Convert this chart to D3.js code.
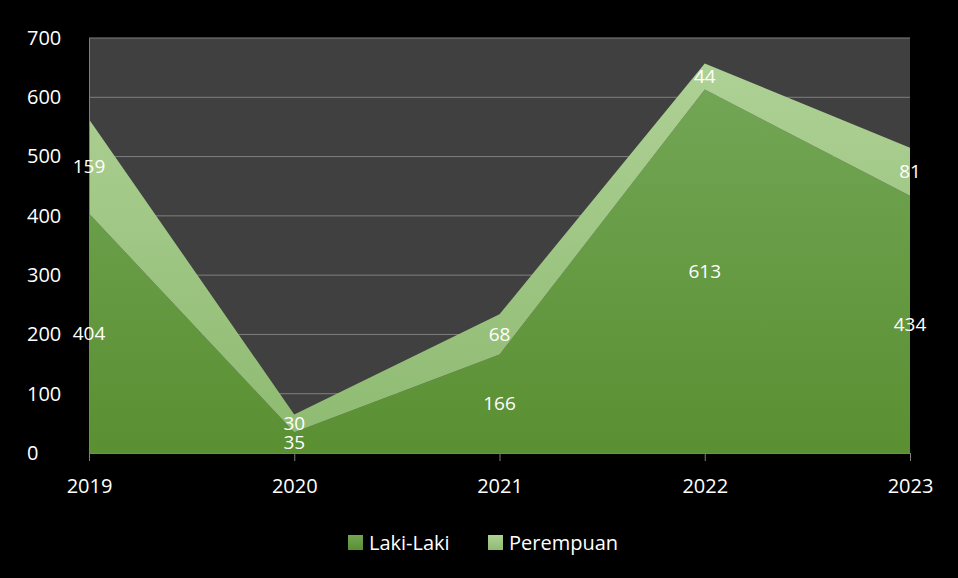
<!DOCTYPE html>
<html>
<head>
<meta charset="utf-8">
<script src="https://cdn.jsdelivr.net/npm/d3@7"></script>
<style>
  body { margin: 0; background: #000; }
  svg, svg text { font-family: "Open Sans", "Noto Sans", sans-serif; }
  svg { display: block; }
</style>
</head>
<body>
<script>
"use strict";
// ----------------------------------------
//  Data
// ----------------------------------------
const years = ["2019", "2020", "2021", "2022", "2023"];
const lakiLaki = [404, 35, 166, 613, 434];
const perempuan = [159, 30, 68, 44, 81];
const yTicks = [0, 100, 200, 300, 400, 500, 600, 700];
const seriesNames = ["Laki-Laki", "Perempuan"];

const W = 958, H = 578;
const margin = {top: 38, right: 48, bottom: 125, left: 89};
const width = W - margin.left - margin.right;
const height = H - margin.top - margin.bottom;

const svg = d3.select("body").append("svg")
    .attr("width", W).attr("height", H);

svg.append("rect").attr("width", W).attr("height", H).attr("fill", "#000");

// gradients
const defs = svg.append("defs");
function grad(id, top, bottom) {
    const g = defs.append("linearGradient").attr("id", id)
        .attr("x1", 0).attr("y1", 0).attr("x2", 0).attr("y2", 1);
    g.append("stop").attr("offset", "0%").attr("stop-color", top);
    g.append("stop").attr("offset", "100%").attr("stop-color", bottom);
}
grad("gLaki", "#72a655", "#5a8f32");
grad("gPer", "#aed195", "#8fbb72");

const g = svg.append("g")
    .attr("transform", "translate(" + margin.left + "," + margin.top + ")");

// scales
const x = d3.scalePoint().domain(years).range([0, width]);
const y = d3.scaleLinear().domain([0, 700]).range([height, 0]);

g.append("rect").attr("width", width).attr("height", height).attr("fill", "#404040");

// gridlines
g.append("g").selectAll("line").data(yTicks.slice(1)).enter().append("line")
    .attr("x1", 0).attr("x2", width)
    .attr("y1", d => y(d)).attr("y2", d => y(d))
    .attr("stroke", "#7f7f7f").attr("stroke-width", 1);

// stacked areas
const rows = years.map((yr, i) => ({year: yr, laki: lakiLaki[i], per: perempuan[i]}));
const stack = d3.stack().keys(["laki", "per"]);
const layers = stack(rows);
const area = d3.area()
    .x(d => x(d.data.year))
    .y0(d => y(d[0]))
    .y1(d => y(d[1]));

const fills = ["url(#gLaki)", "url(#gPer)"];
g.selectAll(".layer").data(layers).enter().append("path")
    .attr("class", "layer")
    .attr("d", area)
    .attr("fill", (d, i) => fills[i]);

// axes
const yAxis = g.append("g").call(d3.axisLeft(y).tickValues(yTicks).tickSize(0));
yAxis.attr("font-family", null);
yAxis.select(".domain").attr("stroke", "#7f7f7f");
yAxis.selectAll("text").attr("fill", "#fff").attr("font-size", 20).attr("text-anchor", "start")
    .attr("x", -62);

const xAxis = g.append("g").attr("transform", "translate(0," + height + ")")
    .call(d3.axisBottom(x).tickSize(8).tickPadding(18).tickSizeOuter(0));
xAxis.attr("font-family", null);
xAxis.select(".domain").attr("stroke", "#7f7f7f");
xAxis.selectAll("line").attr("stroke", "#7f7f7f");
xAxis.selectAll("text").attr("fill", "#fff").attr("font-size", 20);

// data labels
layers.forEach(layer => {
    g.append("g").selectAll("text").data(layer).enter().append("text")
        .attr("x", d => x(d.data.year))
        .attr("y", d => y((d[0] + d[1]) / 2))
        .attr("dy", "0.35em")
        .attr("text-anchor", "middle")
        .attr("fill", "#fff")
        .attr("font-size", 19)
        .text(d => d[1] - d[0]);
});

// legend
const legend = svg.append("g").attr("transform", "translate(348,535)");
const legX = [0, 140];
seriesNames.forEach((name, i) => {
    const item = legend.append("g").attr("transform", "translate(" + legX[i] + ",0)");
    item.append("rect").attr("width", 15).attr("height", 15).attr("fill", fills[i]);
    item.append("text").attr("x", 21).attr("y", 8).attr("dy", "0.35em")
        .attr("fill", "#fff").attr("font-size", 20).text(name);
});
</script>
</body>
</html>
